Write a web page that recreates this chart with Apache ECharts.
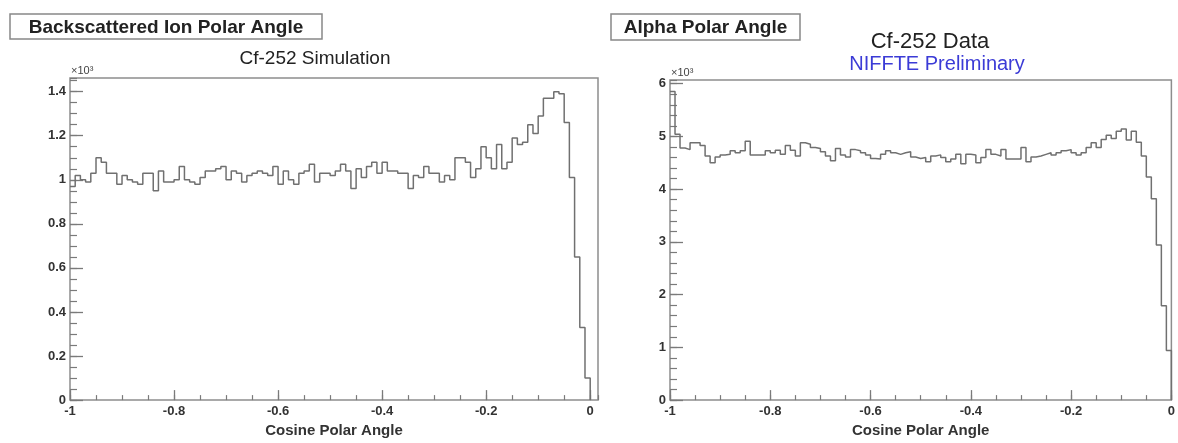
<!DOCTYPE html>
<html><head><meta charset="utf-8">
<script src="https://cdn.jsdelivr.net/npm/echarts@6/dist/echarts.min.js"></script>
<style>html,body{margin:0;padding:0;background:#fff}#c{width:1178px;height:443px}</style>
</head><body><div id="c"></div>
<script>
// Histogram binning (cosine of polar angle), 100 bins from -1 to 0
const binLow = -1;
const binWidth = 0.01;

// Left: Cf-252 Simulation, counts in units of 10^3
const simCounts = [
  0.97,1.02,1.00,0.99,1.03,1.10,1.08,1.03,1.03,0.98,
  1.02,1.00,0.99,0.98,1.03,1.03,0.95,1.04,0.99,0.99,
  1.00,1.06,1.00,0.99,0.98,1.01,1.04,1.04,1.05,1.06,
  1.00,1.04,1.03,0.99,1.02,1.03,1.04,1.03,1.02,1.06,
  0.98,1.04,1.00,0.98,1.03,1.04,1.07,0.99,1.03,1.03,
  1.02,1.04,1.07,1.04,0.96,1.05,1.01,1.06,1.08,1.03,
  1.08,1.04,1.04,1.03,1.03,0.96,1.02,1.01,1.06,1.03,
  1.03,0.99,1.02,1.00,1.10,1.10,1.08,1.01,1.05,1.15,
  1.10,1.05,1.16,1.05,1.08,1.19,1.16,1.17,1.25,1.21,
  1.29,1.37,1.37,1.40,1.39,1.26,1.01,0.65,0.33,0.10
];

// Right: Cf-252 Data, counts in units of 10^3
const dataCounts = [
  5.85,5.04,4.78,4.75,4.88,4.88,4.83,4.63,4.50,4.61,
  4.65,4.66,4.73,4.69,4.73,4.91,4.65,4.65,4.65,4.73,
  4.69,4.74,4.66,4.83,4.74,4.63,4.88,4.85,4.79,4.77,
  4.71,4.63,4.54,4.77,4.65,4.61,4.75,4.73,4.69,4.65,
  4.58,4.57,4.66,4.73,4.69,4.66,4.69,4.71,4.61,4.58,
  4.60,4.52,4.63,4.65,4.60,4.52,4.57,4.66,4.48,4.66,
  4.65,4.50,4.60,4.75,4.66,4.63,4.75,4.57,4.57,4.57,
  4.79,4.52,4.61,4.63,4.66,4.69,4.65,4.69,4.73,4.75,
  4.69,4.65,4.69,4.79,4.88,4.79,4.94,5.02,4.96,5.10,
  5.14,4.93,5.10,4.89,4.63,4.23,3.82,2.94,1.79,0.94
];

const panelLabels = ['Backscattered Ion Polar Angle', 'Alpha Polar Angle'];
const plotTitles = ['Cf-252 Simulation', 'Cf-252 Data'];
const subTitle = 'NIFFTE Preliminary';
const xTitle = 'Cosine Polar Angle';
const expLabel = '\u00d710\u00b3';

function histPoints(counts) {
  const pts = counts.map((v, i) => [+(binLow + i * binWidth).toFixed(4), v]);
  const xEnd = +(binLow + counts.length * binWidth).toFixed(4);
  pts.push([xEnd, counts[counts.length - 1]]);
  pts.push([xEnd, 0]);
  return pts;
}

const FONT = 'Liberation Sans, Arial, Helvetica, sans-serif';
const frameColor = '#8d8d8d';
const tickColor = '#7a7a7a';
const lineColor = '#707070';
const labelStyle = { fontFamily: FONT, fontWeight: 'bold', fontSize: 13, color: '#333' };
const fmt = v => String(+(+v).toFixed(2));

function xMajor(g, max) {
  return {
    gridIndex: g, type: 'value', min: -1, max: max, interval: 0.2, position: 'bottom',
    axisLine: { show: false, onZero: false },
    axisTick: { show: true, inside: true, length: 10, lineStyle: { color: tickColor, width: 1.3 } },
    axisLabel: Object.assign({ margin: 5, showMaxLabel: max === 0, formatter: fmt }, labelStyle),
    splitLine: { show: false },
    name: xTitle, nameLocation: 'middle', nameGap: 19,
    nameTextStyle: { fontFamily: FONT, fontWeight: 'bold', fontSize: 15, color: '#333' }
  };
}
function xMinor(g, max) {
  return {
    gridIndex: g, type: 'value', min: -1, max: max, interval: 0.05, position: 'bottom',
    axisLine: { show: false, onZero: false },
    axisTick: { show: true, inside: true, length: 5, lineStyle: { color: tickColor, width: 1.2 } },
    axisLabel: { show: false }, splitLine: { show: false }
  };
}
function yMajor(g, max, interval) {
  return {
    gridIndex: g, type: 'value', min: 0, max: max, interval: interval, position: 'left',
    axisLine: { show: false, onZero: false },
    axisTick: { show: true, inside: true, length: 13, lineStyle: { color: tickColor, width: 1.3 } },
    axisLabel: Object.assign({ margin: 4, showMaxLabel: false, formatter: fmt }, labelStyle),
    splitLine: { show: false }
  };
}
function yMinor(g, max, interval) {
  return {
    gridIndex: g, type: 'value', min: 0, max: max, interval: interval, position: 'left',
    axisLine: { show: false, onZero: false },
    axisTick: { show: true, inside: true, length: 7, lineStyle: { color: tickColor, width: 1.2 } },
    axisLabel: { show: false }, splitLine: { show: false }
  };
}

function boxLabel(x, y, w, h, text) {
  return {
    type: 'group', children: [
      { type: 'rect', shape: { x: x, y: y, width: w, height: h },
        style: { fill: '#fff', stroke: '#888', lineWidth: 1.5 } },
      { type: 'text', x: x + w / 2, y: y + h / 2 + 1,
        style: { text: text, fill: '#222', font: 'bold 19px ' + FONT, textAlign: 'center', textVerticalAlign: 'middle' } }
    ]
  };
}
function txt(x, y, text, font, color) {
  return { type: 'text', x: x, y: y,
    style: { text: text, fill: color, font: font, textAlign: 'center', textVerticalAlign: 'middle' } };
}

const chart = echarts.init(document.getElementById('c'), null, { renderer: 'canvas' });
chart.setOption({
  animation: false,
  backgroundColor: '#fff',
  grid: [
    { left: 70, top: 78, width: 528, height: 329, show: true, borderColor: frameColor, borderWidth: 1.5, backgroundColor: 'transparent' },
    { left: 670, top: 80, width: 507, height: 328, show: true, borderColor: frameColor, borderWidth: 1.5, backgroundColor: 'transparent' }
  ],
  xAxis: [xMajor(0, 0.015), xMinor(0, 0.015), xMajor(1, 0), xMinor(1, 0)],
  yAxis: [yMajor(0, 1.462, 0.2), yMinor(0, 1.462, 0.05), yMajor(1, 6.07, 1), yMinor(1, 6.07, 0.2)],
  series: [
    { type: 'line', xAxisIndex: 0, yAxisIndex: 0, step: 'end', symbol: 'none', silent: true,
      lineStyle: { color: lineColor, width: 1.5 }, data: histPoints(simCounts) },
    { type: 'line', xAxisIndex: 2, yAxisIndex: 2, step: 'end', symbol: 'none', silent: true,
      lineStyle: { color: lineColor, width: 1.5 }, data: histPoints(dataCounts) }
  ],
  graphic: [
    boxLabel(10, 14, 312, 25, panelLabels[0]),
    boxLabel(611, 14, 189, 26, panelLabels[1]),
    txt(315, 59, plotTitles[0], '19px ' + FONT, '#222'),
    txt(930, 42, plotTitles[1], '22px ' + FONT, '#222'),
    txt(937, 64, subTitle, '20px ' + FONT, '#3b3bd6'),
    { type: 'text', x: 71, y: 71, style: { text: expLabel, fill: '#444', font: '11px ' + FONT, textVerticalAlign: 'middle' } },
    { type: 'text', x: 671, y: 73, style: { text: expLabel, fill: '#444', font: '11px ' + FONT, textVerticalAlign: 'middle' } }
  ]
});
</script>
</body></html>
